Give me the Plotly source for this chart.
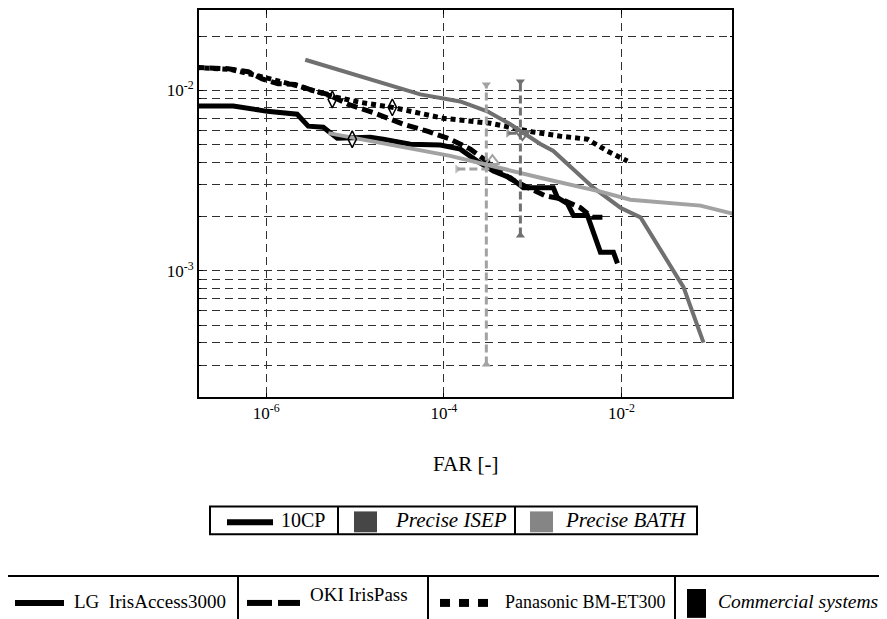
import plotly.graph_objects as go

# ---------------- data ----------------
lg_far = [1.0e-7, 4.25e-7, 1.03e-6, 2.23e-6, 2.97e-6, 4.39e-6, 6.31e-6, 8.83e-6,
          1.48e-5, 2.08e-5, 4.2e-5, 9.14e-5, 1.53e-4, 2.38e-4, 3.61e-4, 5.61e-4,
          7.87e-4, 1.71e-3, 1.90e-3, 2.47e-3, 2.88e-3, 4.14e-3, 5.80e-3, 8.12e-3, 9.02e-3]
lg_frr = [8.2e-3, 8.2e-3, 7.66e-3, 7.38e-3, 6.34e-3, 6.25e-3, 5.44e-3, 5.44e-3,
          5.51e-3, 5.37e-3, 5.04e-3, 4.98e-3, 4.73e-3, 4.06e-3, 3.58e-3, 3.28e-3,
          2.89e-3, 2.89e-3, 2.55e-3, 2.36e-3, 2.03e-3, 2.03e-3, 1.27e-3, 1.27e-3, 1.10e-3]

oki_far = [1.0e-7, 3.73e-7, 6.27e-7, 9.0e-7, 1.36e-6, 2.12e-6, 3.13e-6, 5.0e-6,
           8.4e-6, 1.69e-5, 3.5e-5, 6.5e-5, 1.18e-4, 1.99e-4, 3.34e-4, 5.61e-4,
           9.43e-4, 1.39e-3, 2.06e-3, 3.45e-3, 4.71e-3, 6.78e-3]
oki_frr = [1.355e-2, 1.32e-2, 1.27e-2, 1.16e-2, 1.09e-2, 1.08e-2, 1.01e-2, 9.5e-3,
           8.37e-3, 7.47e-3, 6.5e-3, 5.95e-3, 5.37e-3, 4.73e-3, 3.92e-3, 3.24e-3,
           2.85e-3, 2.61e-3, 2.51e-3, 2.24e-3, 1.98e-3, 1.98e-3]

pan_far = [1.0e-7, 3.93e-7, 9.0e-7, 2.42e-6, 5.55e-6, 1.15e-5, 2.63e-5, 5.43e-5,
           9.86e-5, 3.34e-4, 1.02e-3, 2.06e-3, 4.14e-3, 6.95e-3, 1.17e-2]
pan_frr = [1.355e-2, 1.31e-2, 1.19e-2, 1.05e-2, 9.27e-3, 8.59e-3, 8.06e-3, 7.47e-3,
           7.01e-3, 6.58e-3, 5.88e-3, 5.58e-3, 5.37e-3, 4.61e-3, 4.06e-3]

isep_far = [2.75e-6, 1.15e-5, 5.43e-5, 1.53e-4, 3.09e-4, 5.61e-4, 1.22e-3, 1.71e-3,
            4.83e-3, 9.75e-3, 1.64e-2, 5.0e-2, 8.4e-2]
isep_frr = [1.48e-2, 1.19e-2, 9.51e-3, 8.69e-3, 7.66e-3, 6.50e-3, 5.05e-3, 4.62e-3,
            2.89e-3, 2.24e-3, 1.98e-3, 8.13e-4, 4.0e-4]

bath_far = [5.0e-6, 1.18e-4, 1.22e-3, 5.80e-3, 1.26e-2, 7.76e-2, 1.9e-1]
bath_frr = [5.80e-3, 4.34e-3, 3.28e-3, 2.75e-3, 2.48e-3, 2.30e-3, 2.06e-3]

# commercial operating points (open diamonds)
op_far = [5.55e-6, 2.63e-5, 9.3e-6]
op_frr = [8.92e-3, 8.06e-3, 5.37e-3]

# operating points with error bars
isep_op_far, isep_op_frr = 7.67e-4, 5.73e-3
isep_eb_far, isep_eb_frr_lo, isep_eb_frr_hi = 7.28e-4, 1.57e-3, 1.12e-2
isep_eb_frr, isep_eb_far_lo, isep_eb_far_hi = 5.80e-3, 5.33e-4, 9.93e-4

bath_op_far, bath_op_frr = 3.52e-4, 4.06e-3
bath_eb_far, bath_eb_frr_lo, bath_eb_frr_hi = 3.01e-4, 3.03e-4, 1.08e-2
bath_eb_frr, bath_eb_far_lo, bath_eb_far_hi = 3.67e-3, 1.42e-4, 3.34e-4

x_tickvals = [1e-6, 1e-4, 1e-2]
x_ticktext = ["10<sup>-6</sup>", "10<sup>-4</sup>", "10<sup>-2</sup>"]
y_tickvals = [1e-3, 1e-2]
y_ticktext = ["10<sup>-3</sup>", "10<sup>-2</sup>"]
y_minor_vals = [2e-4, 3e-4, 4e-4, 5e-4, 6e-4, 7e-4, 8e-4, 9e-4,
                2e-3, 3e-3, 4e-3, 5e-3, 6e-3, 7e-3, 8e-3, 9e-3, 2e-2, 3e-2]

ISEP_COL = "#707070"
BATH_COL = "#a2a2a2"
SERIF = "Liberation Serif"

fig = go.Figure()

fig.add_trace(go.Scatter(x=lg_far, y=lg_frr, mode="lines",
                         line=dict(color="black", width=5)))
fig.add_trace(go.Scatter(x=oki_far, y=oki_frr, mode="lines",
                         line=dict(color="black", width=5, dash="11px,5px")))
fig.add_trace(go.Scatter(x=pan_far, y=pan_frr, mode="lines",
                         line=dict(color="black", width=5, dash="5px,4px")))
fig.add_trace(go.Scatter(x=isep_far, y=isep_frr, mode="lines",
                         line=dict(color=ISEP_COL, width=4)))
fig.add_trace(go.Scatter(x=bath_far, y=bath_frr, mode="lines",
                         line=dict(color=BATH_COL, width=4)))

# error bars
def errorbar(col, xc, ylo, yhi, yc, xlo, xhi, opx, opy, opsym):
    fig.add_trace(go.Scatter(x=[xc, xc], y=[ylo, yhi], mode="lines+markers",
                             line=dict(color=col, width=3, dash="8px,4px"),
                             marker=dict(symbol=["triangle-up", "triangle-down"], size=8, color=col)))
    fig.add_trace(go.Scatter(x=[xlo, xhi], y=[yc, yc], mode="lines+markers",
                             line=dict(color=col, width=3, dash="8px,4px"),
                             marker=dict(symbol=["triangle-right", "line-ns"], size=[8, 1],
                                         color=col, line=dict(width=0, color=col))))
    fig.add_trace(go.Scatter(x=[opx], y=[opy], mode="markers",
                             marker=dict(symbol=opsym, size=12, color=col,
                                         line=dict(width=2, color=col))))

errorbar(BATH_COL, bath_eb_far, bath_eb_frr_lo, bath_eb_frr_hi, bath_eb_frr,
         bath_eb_far_lo, bath_eb_far_hi, bath_op_far, bath_op_frr, "triangle-up-open")
errorbar(ISEP_COL, isep_eb_far, isep_eb_frr_lo, isep_eb_frr_hi, isep_eb_frr,
         isep_eb_far_lo, isep_eb_far_hi, isep_op_far, isep_op_frr, "triangle-down-open")

fig.add_trace(go.Scatter(x=op_far, y=op_frr, mode="markers",
                         marker=dict(symbol="diamond-tall-open", size=12, color="black",
                                     line=dict(width=1.5, color="black"))))

# ---------------- layout ----------------
# screen coordinates of the plot area (page body has an 8px margin)
OFF = 8
L, R, T, B = 199, 732, 8, 397
W, H = 887 - OFF, 619 - OFF

fig.update_layout(
    width=W, height=H,
    margin=dict(l=L - OFF, r=W + OFF - R, t=T - OFF, b=H + OFF - B),
    plot_bgcolor="white", paper_bgcolor="white",
    showlegend=False,
    font=dict(family=SERIF, color="black"),
)
grid = dict(showgrid=True, gridcolor="#303030", gridwidth=1, griddash="8px,5px")
axis_common = dict(type="log", showline=True, linecolor="black", linewidth=2,
                   mirror="ticks", ticks="inside", ticklen=4, tickcolor="black",
                   tickwidth=1, zeroline=False,
                   tickfont=dict(family=SERIF, size=17, color="black"), **grid)
fig.update_xaxes(range=[-6.757, -0.755], tickvals=x_tickvals, ticktext=x_ticktext, **axis_common)
fig.update_yaxes(range=[-3.699, -1.554], tickvals=y_tickvals, ticktext=y_ticktext,
                 minor=dict(tickvals=y_minor_vals, ticks="inside", ticklen=2,
                            tickcolor="black", **grid),
                 **axis_common)

def px(x):
    return (x - L) / (R - L)

def py(y):
    return (B - y) / (B - T)

shapes = []
annos = []

def rect(x0, y0, x1, y1, fill=None, lw=2):
    shapes.append(dict(type="rect", xref="paper", yref="paper",
                       x0=px(x0), x1=px(x1), y0=py(y0), y1=py(y1),
                       line=dict(color="black", width=lw if fill is None else 0),
                       fillcolor=fill if fill else "rgba(0,0,0,0)"))

def hline(x0, x1, y, lw, col="black"):
    shapes.append(dict(type="line", xref="paper", yref="paper",
                       x0=px(x0), x1=px(x1), y0=py(y), y1=py(y),
                       line=dict(color=col, width=lw)))

def vline(x, y0, y1, lw=2):
    shapes.append(dict(type="line", xref="paper", yref="paper",
                       x0=px(x), x1=px(x), y0=py(y0), y1=py(y1),
                       line=dict(color="black", width=lw)))

def text(x, y, s, size, anchor="left"):
    annos.append(dict(xref="paper", yref="paper", x=px(x), y=py(y), text=s,
                      showarrow=False, xanchor=anchor, yanchor="middle",
                      font=dict(family=SERIF, size=size, color="black")))

# axis title
text((L + R) / 2, 464, "FAR [-]", 21, anchor="center")

# legend 1
rect(210, 507, 697, 535)
vline(338, 507, 535)
vline(515, 507, 535)
hline(227, 273, 523, 6)
text(279, 521, "10CP", 20)
rect(354, 512, 377, 533, fill="#464646")
text(393, 521, "<i>Precise ISEP</i>", 21)
rect(530, 512, 553, 533, fill="#858585")
text(563, 521, "<i>Precise BATH</i>", 21)

# legend 2
rect(7, 577, 905, 640)
vline(238, 577, 640)
vline(428, 577, 640)
vline(675, 577, 640)
hline(15, 64, 604, 6)
text(72, 603, "LG  IrisAccess3000", 19)
hline(247, 272, 604, 6)
hline(278, 300, 604, 6)
text(308, 596, "OKI IrisPass", 19)
for xs in (440, 459, 478):
    rect(xs, 600, xs + 10, 608, fill="black")
text(503, 603, "Panasonic BM-ET300", 18)
rect(687, 590, 706, 619, fill="black")
text(716, 603, "<i>Commercial systems</i>", 19.5)

fig.update_layout(shapes=shapes, annotations=annos)

fig.write_html("out.html")
